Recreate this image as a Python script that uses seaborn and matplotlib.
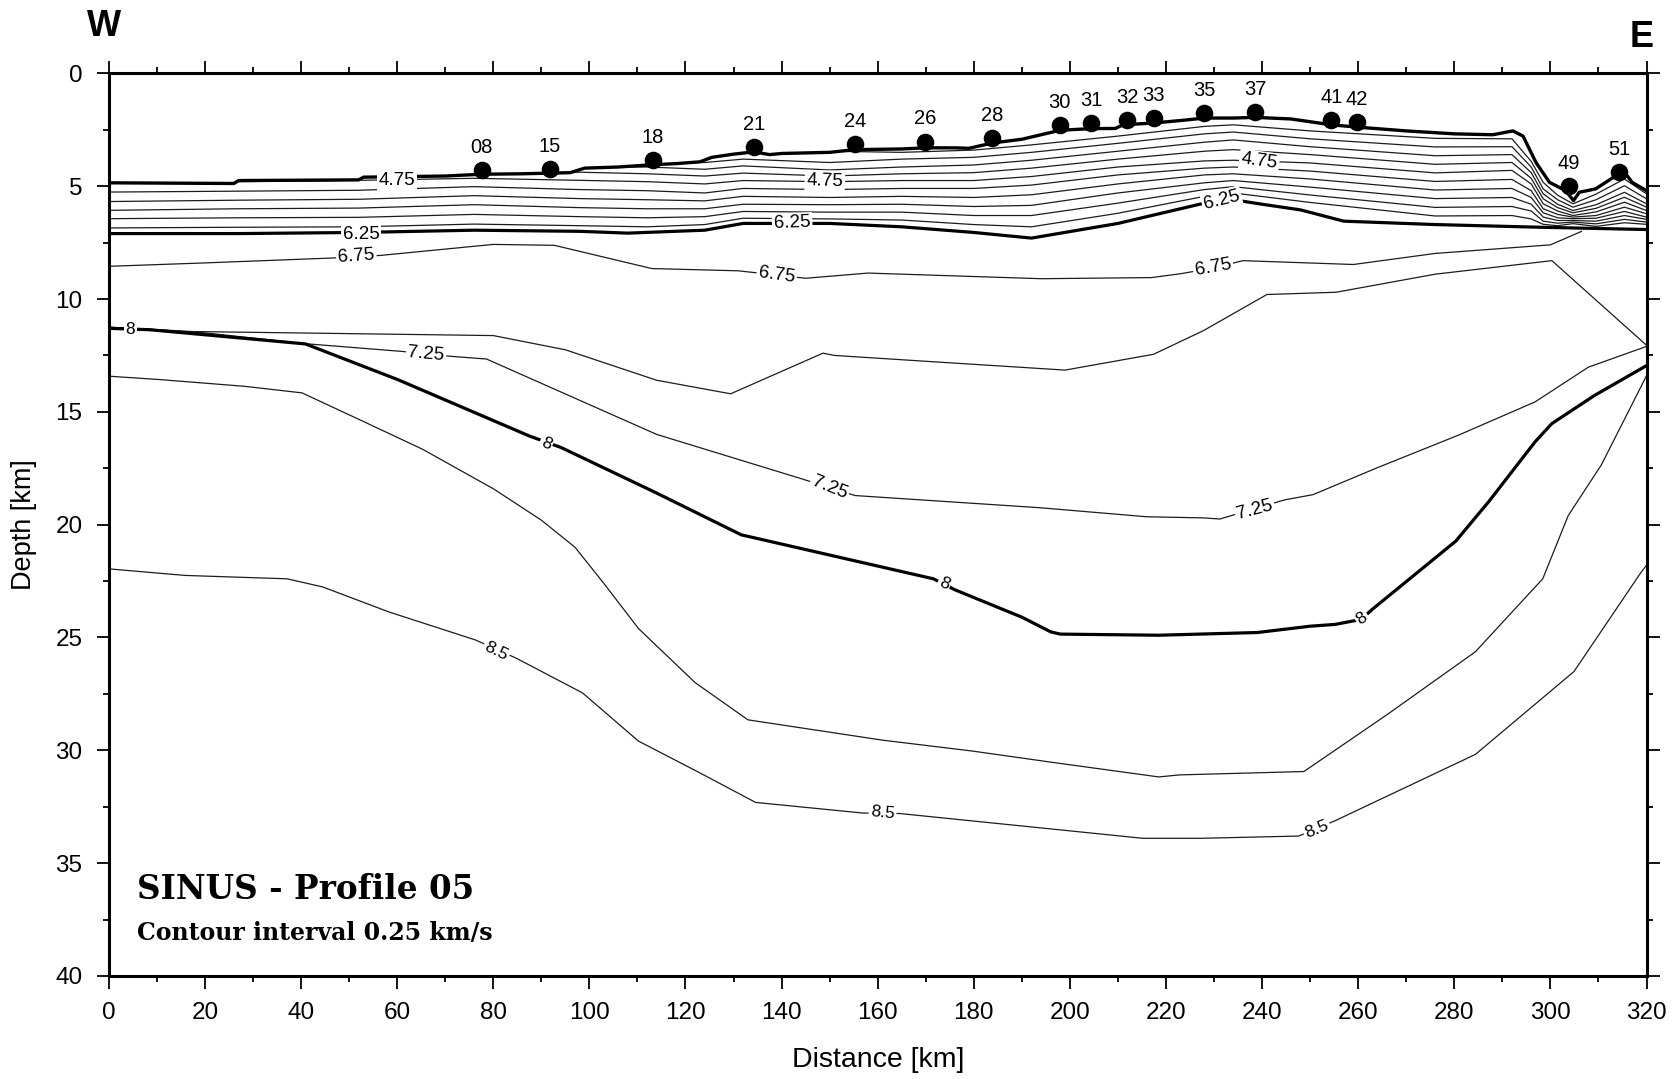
import numpy as np
import matplotlib
matplotlib.use("Agg")
import matplotlib.pyplot as plt
import seaborn as sns
from matplotlib.ticker import MultipleLocator

# ---------------- seafloor (km) ----------------
sea_x = [0, 26, 27, 52, 53, 70, 77.6, 86, 92, 96, 99, 106, 113, 118, 123, 125.5, 130,
         134.2, 137.5, 140, 150, 155.3, 165, 170, 176, 179, 184, 190, 198, 204.4, 209.5,
         211, 217.4, 224, 228, 234, 238.5, 246, 254.4, 259.7, 270, 280, 288, 292.2, 294.3,
         297, 299.8, 303.2, 304.8, 306, 309.4, 313.6, 315.7, 317, 320]
sea_z = [4.85, 4.88, 4.75, 4.72, 4.6, 4.55, 4.47, 4.45, 4.42, 4.4, 4.2, 4.15, 4.05, 4.0,
         3.92, 3.72, 3.58, 3.48, 3.6, 3.55, 3.5, 3.38, 3.35, 3.3, 3.3, 3.32, 3.08, 2.92,
         2.52, 2.45, 2.44, 2.28, 2.2, 2.07, 1.98, 1.98, 1.95, 2.02, 2.28, 2.38, 2.55, 2.68,
         2.72, 2.55, 2.78, 3.95, 4.83, 5.2, 5.64, 5.27, 5.12, 4.54, 4.46, 4.83, 5.2]

# ---------------- stations ----------------
sta_name = ["08", "15", "18", "21", "24", "26", "28", "30", "31", "32", "33", "35",
            "37", "41", "42", "49", "51"]
sta_x = [77.6, 91.7, 113.2, 134.2, 155.3, 169.9, 183.8, 197.9, 204.4, 211.9, 217.4,
         228.0, 238.5, 254.4, 259.7, 303.8, 314.3]
sta_z = [4.3, 4.24, 3.83, 3.28, 3.14, 3.02, 2.86, 2.28, 2.22, 2.06, 1.98, 1.76, 1.7,
         2.06, 2.14, 5.0, 4.36]

# ---------------- sediment iso-velocity lines (3.75 ... 6.0 km/s) ----------------
sed_x = [0, 27, 52, 76, 98, 112, 124, 132, 150, 165, 180, 192, 210, 228, 234, 250,
         276, 292, 296, 298.5, 301.5, 304.7, 309.5, 315.4, 320]
sed_375 = [4.5, 4.5, 4.4, 4.2, 4.0, 3.8, 3.7, 3.45, 3.45, 3.5, 3.4, 3.17, 2.78, 2.35,
           2.28, 2.55, 2.88, 2.9, 3.9, 4.83, 5.4, 5.78, 5.35, 4.68, 5.34]
sed_400 = [4.5, 4.5, 4.4, 4.2, 4.0, 3.95, 3.95, 3.8, 3.95, 3.8, 3.72, 3.5, 3.1, 2.68,
           2.6, 2.9, 3.26, 3.25, 4.15, 5.12, 5.6, 5.93, 5.6, 4.98, 5.56]
sed_425 = [4.5, 4.5, 4.4, 4.2, 4.15, 4.15, 4.25, 4.1, 4.28, 4.15, 4.06, 3.85, 3.45, 3.05,
           2.95, 3.25, 3.65, 3.6, 4.4, 5.34, 5.8, 6.08, 5.82, 5.27, 5.78]
sed_450 = [4.5, 4.5, 4.4, 4.42, 4.38, 4.45, 4.55, 4.42, 4.55, 4.45, 4.4, 4.2, 3.8, 3.45,
           3.38, 3.6, 4.03, 3.95, 4.65, 5.56, 5.95, 6.18, 5.98, 5.49, 5.93]
sed_475 = [4.88, 4.8, 4.74, 4.65, 4.74, 4.8, 4.9, 4.75, 4.8, 4.75, 4.75, 4.57, 4.15, 3.88,
           3.85, 3.97, 4.41, 4.3, 4.9, 5.78, 6.1, 6.3, 6.14, 5.71, 6.08]
sed_500 = [5.26, 5.22, 5.18, 5.02, 5.15, 5.2, 5.3, 5.1, 5.15, 5.1, 5.1, 4.95, 4.5, 4.2,
           4.15, 4.33, 4.79, 4.7, 5.2, 6.0, 6.25, 6.37, 6.3, 5.93, 6.22]
sed_525 = [5.68, 5.62, 5.58, 5.42, 5.55, 5.6, 5.65, 5.45, 5.5, 5.45, 5.5, 5.38, 4.9, 4.5,
           4.45, 4.68, 5.17, 5.1, 5.5, 6.18, 6.4, 6.44, 6.42, 6.12, 6.37]
sed_550 = [6.07, 6.0, 5.97, 5.82, 5.95, 6.0, 6.0, 5.8, 5.82, 5.8, 5.9, 5.85, 5.3, 4.85,
           4.75, 5.04, 5.55, 5.5, 5.8, 6.37, 6.52, 6.52, 6.55, 6.3, 6.47]
sed_575 = [6.44, 6.4, 6.38, 6.25, 6.35, 6.4, 6.35, 6.12, 6.15, 6.15, 6.3, 6.3, 5.75, 5.15,
           5.02, 5.39, 5.94, 5.9, 6.1, 6.55, 6.64, 6.59, 6.67, 6.47, 6.59]
sed_600 = [6.85, 6.82, 6.8, 6.68, 6.75, 6.8, 6.7, 6.42, 6.45, 6.5, 6.7, 6.8, 6.2, 5.45,
           5.3, 5.72, 6.32, 6.3, 6.45, 6.69, 6.75, 6.66, 6.78, 6.62, 6.69]

# ---------------- 6.25 km/s (top of basement) ----------------
v625_x = [0, 27, 52, 76, 98, 108, 124, 132, 150, 165, 180, 192, 210, 228, 234, 240,
          248, 257, 276, 298, 320]
v625_z = [7.1, 7.1, 7.05, 6.95, 7.0, 7.08, 6.95, 6.65, 6.65, 6.8, 7.05, 7.3, 6.65, 5.75,
          5.6, 5.8, 6.05, 6.55, 6.7, 6.82, 6.92]

# ---------------- crustal iso-velocity lines ----------------
v675_x = [0, 20, 46.8, 56.4, 80, 92.7, 113, 131, 145, 158, 194, 217, 223, 230, 236,
          259, 276, 300, 306.5]
v675_z = [8.55, 8.4, 8.18, 8.07, 7.58, 7.62, 8.65, 8.75, 9.08, 8.85, 9.1, 9.05, 8.88,
          8.62, 8.3, 8.47, 7.98, 7.6, 7.0]

v700_x = [0, 8.4, 17.2, 80, 95, 114, 129.4, 148.6, 151, 173, 199, 217.4, 227.8, 241,
          255.4, 276, 300.3, 320]
v700_z = [11.25, 11.34, 11.44, 11.62, 12.25, 13.6, 14.2, 12.4, 12.5, 12.8, 13.15, 12.45,
          11.4, 9.8, 9.7, 8.9, 8.3, 12.05]

v725_x = [0, 8.4, 20, 40.9, 60.9, 71.2, 78.6, 114, 144.2, 155.3, 193.8, 216, 227.8,
          231.2, 244.7, 250.6, 263.7, 280.9, 296.8, 307.9, 320]
v725_z = [11.25, 11.34, 11.5, 11.98, 12.32, 12.54, 12.66, 16.0, 17.97, 18.71, 19.25,
          19.65, 19.7, 19.75, 18.9, 18.67, 17.5, 16.03, 14.56, 13.02, 12.1]

v800_x = [0, 8.4, 40.9, 60.1, 87.5, 94.1, 114, 131.6, 171.6, 176, 190, 196, 198, 218.5,
          239, 250, 255.2, 260.6, 263, 280.3, 287.2, 296.8, 300.3, 309.2, 320]
v800_z = [11.3, 11.36, 11.99, 13.57, 16.07, 16.58, 18.6, 20.45, 22.4, 22.88, 24.1, 24.75,
          24.85, 24.9, 24.78, 24.5, 24.42, 24.2, 23.74, 20.73, 18.97, 16.33, 15.52, 14.27,
          12.95]

v825_x = [0, 10.6, 28.3, 40.2, 53.5, 65.3, 80.1, 90, 97, 103, 110.2, 122, 133, 161,
          179.6, 196.9, 218.5, 222.8, 248.7, 266, 284.4, 298.4, 303.7, 310.6, 320]
v825_z = [13.42, 13.57, 13.87, 14.16, 15.48, 16.66, 18.42, 19.8, 21.0, 22.6, 24.6, 27.0,
          28.65, 29.55, 30.03, 30.55, 31.18, 31.09, 30.94, 28.42, 25.63, 22.4, 19.6, 17.35,
          13.4]

v850_x = [0, 15.9, 37.1, 44.5, 58.3, 76.3, 84.8, 98.6, 110.2, 122.9, 134.6, 156.9, 164.5,
          215.2, 227.1, 247.6, 255.2, 284.4, 304.9, 318.9, 320]
v850_z = [21.96, 22.25, 22.4, 22.76, 23.87, 25.11, 25.92, 27.46, 29.59, 30.99, 32.31,
          32.78, 32.8, 33.9, 33.9, 33.8, 33.12, 30.18, 26.51, 22.1, 21.8]

# ---------------- contour annotations: (text, x, depth, angle) ----------------
label_text = ["4.75", "4.75", "4.75", "6.25", "6.25", "6.25", "6.75", "6.75", "6.75",
              "7.25", "7.25", "7.25", "8", "8", "8", "8", "8.5", "8.5", "8.5"]
label_x = [60, 149, 239.4, 52.5, 142.2, 231.6, 51.5, 139, 229.8, 66, 150, 238.5, 4.5,
           91, 173.8, 260.8, 80.6, 161, 251.4]
label_z = [4.75, 4.76, 3.9, 7.12, 6.64, 5.62, 8.1, 8.93, 8.6, 12.45, 18.35, 19.35, 11.33,
           16.4, 22.62, 24.15, 25.6, 32.78, 33.5]
label_rot = [0, -2, -8, 0, 2, 14, 4, -8, 10, -5, -22, 15, 0, -24, -23, 35, -26, -6, 22]
label_size = [13.5, 13.5, 13.5, 13.5, 13.5, 13.5, 13.5, 13.5, 13.5, 13.5, 13.5, 13.5,
              12.5, 12.5, 12.5, 12.5, 12.5, 12.5, 12.5]

# ---------------- figure ----------------
sns.set_theme(style="ticks")
plt.rcParams["font.family"] = ["Liberation Sans", "DejaVu Sans"]
plt.rcParams.update({
    "axes.linewidth": 2.2,
    "text.color": "black",
    "axes.labelcolor": "black",
    "xtick.color": "black",
    "ytick.color": "black",
    "axes.edgecolor": "black",
})

fig = plt.figure(figsize=(16.75, 10.79), dpi=100)
ax = fig.add_axes([0.065, 0.0955, 0.918, 0.8365])

thin = "#1c1c1c"


def trace(x, z, lw=0.9, color=thin, zorder=2):
    sns.lineplot(x=x, y=z, sort=False, estimator=None, ax=ax, color=color,
                 linewidth=lw, zorder=zorder, legend=False)


for level in [sed_375, sed_400, sed_425, sed_450, sed_475, sed_500, sed_525, sed_550,
              sed_575, sed_600]:
    trace(sed_x, level, lw=0.9)

trace(v675_x, v675_z, lw=0.9)
trace(v700_x, v700_z, lw=0.9)
trace(v725_x, v725_z, lw=0.9)
trace(v825_x, v825_z, lw=0.9)
trace(v850_x, v850_z, lw=0.9)
trace(v800_x, v800_z, lw=2.3, color="black", zorder=3)
trace(v625_x, v625_z, lw=2.3, color="black", zorder=3)

# water column above the seafloor stays blank
ax.fill_between(sea_x, 0, sea_z, color="white", lw=0, zorder=4)
trace(sea_x, sea_z, lw=2.4, color="black", zorder=5)

sns.scatterplot(x=sta_x, y=sta_z, s=160, color="black", edgecolor="black",
                linewidth=0, ax=ax, zorder=6, legend=False)
for name, sx, sz in zip(sta_name, sta_x, sta_z):
    ax.text(sx, sz - 1.0, name, ha="center", va="center", fontsize=14.5, zorder=7)

for t, lx, lz, r, fs in zip(label_text, label_x, label_z, label_rot, label_size):
    ax.text(lx, lz, t, ha="center", va="center", rotation=r, fontsize=fs,
            rotation_mode="anchor", zorder=7,
            bbox=dict(boxstyle="square,pad=0.1", fc="white", ec="none"))

ax.set_xlim(0, 320)
ax.set_ylim(40, 0)
ax.xaxis.set_major_locator(MultipleLocator(20))
ax.xaxis.set_minor_locator(MultipleLocator(10))
ax.yaxis.set_major_locator(MultipleLocator(5))
ax.yaxis.set_minor_locator(MultipleLocator(2.5))
ax.tick_params(which="both", direction="out", top=True, right=True,
               labeltop=False, labelright=False, color="black", width=1.3)
ax.tick_params(which="major", length=9, pad=10, labelsize=17.5)
ax.tick_params(which="minor", length=4)
for sp in ax.spines.values():
    sp.set_zorder(10)
    sp.set_color("black")

ax.set_xlabel("Distance [km]", fontsize=20.5, labelpad=16)
ax.set_ylabel("Depth [km]", fontsize=19.5, labelpad=13)

fig.text(0.062, 0.975, "W", fontsize=26, fontweight="bold", ha="center", va="center")
fig.text(0.980, 0.965, "E", fontsize=26, fontweight="bold", ha="center", va="center")

ax.text(5.8, 36.6, "SINUS - Profile 05", fontsize=23.5, fontweight="bold",
        family=["DejaVu Serif"], ha="left", va="baseline", zorder=7)
ax.text(5.8, 38.4, "Contour interval 0.25 km/s", fontsize=17, fontweight="bold",
        family=["DejaVu Serif"], ha="left", va="baseline", zorder=7)

fig.savefig("out.png", dpi=100, facecolor="white")
